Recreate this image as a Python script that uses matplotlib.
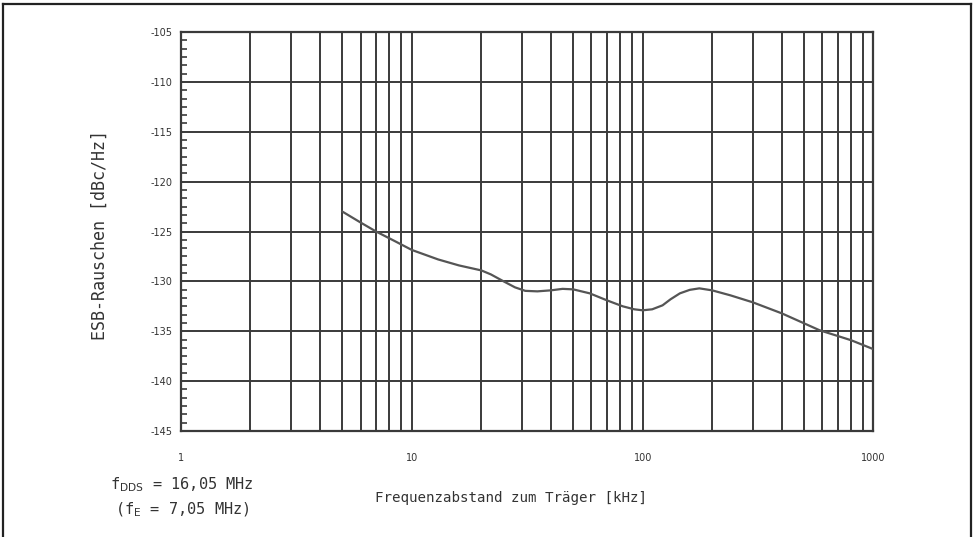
import matplotlib.pyplot as plt
import numpy as np
from matplotlib.ticker import FixedLocator, NullFormatter

# ESB-Rauschen ueber Frequenzabstand
freq_khz = [5, 6, 7, 8.5, 10, 13, 16, 20, 22, 25, 28, 31, 35, 40, 45, 50, 59, 70, 82,
            92, 100, 110, 122, 132, 145, 160, 176, 200, 240, 300, 400, 584, 800, 1000]
noise_dbc = [-123.0, -124.1, -125.0, -126.0, -126.85, -127.8, -128.4, -128.9, -129.3,
             -130.0, -130.6, -130.95, -131.0, -130.9, -130.75, -130.8, -131.2, -131.9,
             -132.5, -132.8, -132.9, -132.8, -132.4, -131.8, -131.2, -130.85, -130.7,
             -130.9, -131.4, -132.1, -133.2, -134.9, -135.9, -136.8]

x_major = [1, 10, 100, 1000]
x_labels = ["1", "10", "100", "1000"]
y_major = [-145, -140, -135, -130, -125, -120, -115, -110, -105]

grid_col = "#3a3a3a"
text_col = "#333333"

fig = plt.figure(figsize=(9.74, 5.37), dpi=100)
ax = fig.add_axes([0.1858, 0.1974, 0.711, 0.743])

ax.set_xscale("log")
ax.set_xlim(1, 1000)
ax.set_ylim(-145, -105)

# alle Dekadenlinien
vlines = [m * 10 ** d for d in range(3) for m in range(1, 10)] + [1000]
for v in vlines:
    ax.axvline(v, color=grid_col, lw=1.4, zorder=1)
for h in y_major:
    ax.axhline(h, color=grid_col, lw=1.4, zorder=1)

ax.plot(freq_khz, noise_dbc, color="#555555", lw=1.6, zorder=3)

ax.xaxis.set_major_locator(FixedLocator(x_major))
ax.xaxis.set_minor_locator(FixedLocator([]))
ax.set_xticklabels(x_labels)
ax.xaxis.set_minor_formatter(NullFormatter())
ax.set_yticks(y_major)
ax.set_yticklabels([str(v) for v in y_major])
minor_y = [b + k * 5 / 6 for b in y_major[:-1] for k in range(1, 6)]
ax.yaxis.set_minor_locator(FixedLocator(minor_y))

ax.tick_params(axis="x", which="both", length=0, pad=16, labelsize=7, colors=text_col)
ax.tick_params(axis="y", which="major", length=0, pad=6, labelsize=7, colors=text_col)
ax.tick_params(axis="y", which="minor", direction="in", length=4, width=1.2, color=grid_col)

for s in ax.spines.values():
    s.set_color(grid_col)
    s.set_linewidth(1.6)

ax.set_xlabel("Frequenzabstand zum Träger [kHz]", fontsize=10.2, color=text_col,
              family="DejaVu Sans Mono")
ax.xaxis.set_label_coords(0.477, -0.15)
ax.set_ylabel("ESB-Rauschen [dBc/Hz]", fontsize=12, color=text_col,
              family="DejaVu Sans Mono")
ax.yaxis.set_label_coords(-0.105, 0.49)

fig.text(0.113, 0.088, r"f$_{\rm DDS}$ = 16,05 MHz", fontsize=11, color=text_col,
         family="DejaVu Sans Mono")
fig.text(0.118, 0.042, r"(f$_{\rm E}$ = 7,05 MHz)", fontsize=11, color=text_col,
         family="DejaVu Sans Mono")

# Rahmen um die Grafik (oben, links, rechts)
fig.add_artist(plt.Line2D([0.003, 0.997], [0.992, 0.992], color="#222222", lw=1.6))
fig.add_artist(plt.Line2D([0.003, 0.003], [0.0, 0.992], color="#222222", lw=1.6))
fig.add_artist(plt.Line2D([0.997, 0.997], [0.0, 0.992], color="#222222", lw=1.6))

fig.savefig("out.png", dpi=100)
